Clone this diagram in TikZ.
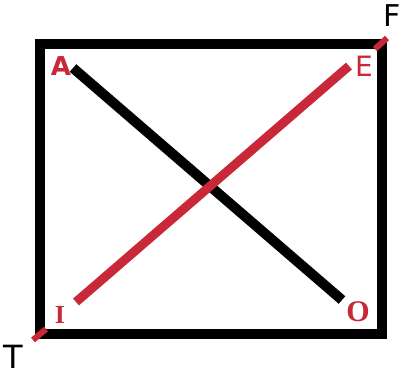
\documentclass[tikz,border=0pt]{standalone}
\usepackage{fontspec}
\setmainfont{Liberation Sans}
\newfontfamily\serifb{Liberation Serif}
\newfontfamily\dvs{DejaVu Sans}
\definecolor{lred}{RGB}{200,40,55}
\begin{document}
\begin{tikzpicture}[x=1pt,y=-1pt,
  box/.style={line width=10pt,draw=black},
  blackline/.style={line width=10pt,draw=black},
  redline/.style={line width=9pt,draw=lred},
  redlbl/.style={text=lred,inner sep=0pt,anchor=center},
  blklbl/.style={text=black,inner sep=0pt,anchor=center}]
\useasboundingbox (0,0) rectangle (402,375);
\fill[white] (0,0) rectangle (402,375);
\draw[box] (40,44) rectangle (382,334);
\coordinate (a0) at (73,68);
\coordinate (o0) at (342,300);
\coordinate (i0) at (76,302);
\coordinate (e0) at (349,66);
\coordinate (t1) at (33,340);
\coordinate (t2) at (46,329);
\coordinate (f1) at (375,49);
\coordinate (f2) at (387,38);
\draw[blackline] (a0) -- (o0);
\draw[redline] (i0) -- (e0);
\draw[redline,line width=6pt] (t1) -- (t2);
\draw[redline,line width=6pt] (f1) -- (f2);
\node[redlbl,font=\dvs\fontsize{26}{26}\selectfont\bfseries] (A) at (61,66) {A};
\node[redlbl,font=\dvs\fontsize{28}{28}\selectfont] (E) at (364,66) {E};
\node[redlbl,font=\serifb\fontsize{26}{26}\selectfont\bfseries] (I) at (60,315) {I};
\node[redlbl,font=\serifb\fontsize{30}{30}\selectfont\bfseries] (O) at (358,312) {O};
\node[blklbl,font=\dvs\fontsize{30}{30}\selectfont] (F) at (392,16) {F};
\node[blklbl,font=\dvs\fontsize{32}{32}\selectfont] (T) at (13,357) {T};
\end{tikzpicture}
\end{document}
